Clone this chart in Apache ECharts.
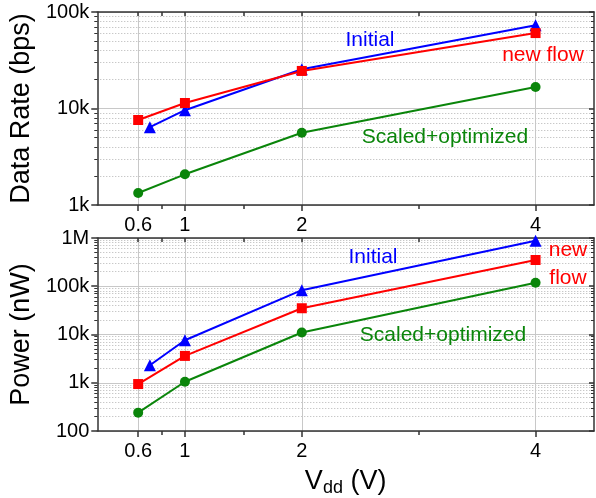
<!DOCTYPE html>
<html>
<head>
<meta charset="utf-8">
<script src="https://cdn.jsdelivr.net/npm/echarts@6/dist/echarts.min.js"></script>
<style>
  html, body { margin: 0; padding: 0; background: #fff; }
  #main { width: 596px; height: 498px; }
</style>
</head>
<body>
<div id="main"></div>
<script>
// supply voltage points (V)
const vdd = [0.6, 1, 2, 4];
const vddInitial = [0.7, 1, 2, 4];
const majorTicks = [0.6, 1, 2, 4];
const minorTicks = [0.8, 1.5, 3];

// data rate (bps)
const rateInitial = [6400, 9600, 25500, 73000];
const rateNewFlow = [7600, 11400, 24500, 60500];
const rateScaled = [1330, 2080, 5600, 16700];

// power (nW)
const powerInitial = [2300, 7600, 83000, 880000];
const powerNewFlow = [940, 3600, 35000, 350000];
const powerScaled = [240, 1050, 11000, 118000];

const yLabels = { 100: '100', 1000: '1k', 10000: '10k', 100000: '100k', 1000000: '1M' };

const FONT = 'Liberation Sans';
const AXIS_COLOR = '#333';
const BLUE = '#0000ff', RED = '#ff0000', GREEN = '#0a850a';

function pairs(xs, ys) {
  return xs.map((x, i) => [x, ys[i]]);
}

// x axes for one grid: main, minor ticks, top mirror
function xAxesFor(gi, withName) {
  const base = { type: 'value', gridIndex: gi, min: 0.25, max: 4.5 };
  return [
    Object.assign({}, base, {
      position: 'bottom',
      axisLine: { show: true, onZero: false, lineStyle: { color: AXIS_COLOR, width: 1.5 } },
      axisTick: { show: true, customValues: majorTicks, length: 6, lineStyle: { color: AXIS_COLOR, width: 1.5 } },
      axisLabel: { show: true, customValues: majorTicks, margin: 10, color: '#000', fontSize: 20, fontFamily: FONT },
      splitLine: { show: true, lineStyle: { color: '#c8c8c8', width: 1 } },
      name: withName ? 'V{sub|dd} (V)' : '',
      nameLocation: 'middle',
      nameGap: 36,
      nameTextStyle: {
        fontSize: 27, fontFamily: FONT, color: '#000',
        rich: { sub: { fontSize: 18, fontFamily: FONT, color: '#000', verticalAlign: 'bottom', padding: [12, 0, 0, 0] } }
      }
    }),
    Object.assign({}, base, {
      position: 'bottom',
      axisLine: { show: false, onZero: false },
      axisTick: { show: true, customValues: minorTicks, length: 4, lineStyle: { color: AXIS_COLOR, width: 1.5 } },
      axisLabel: { show: false },
      splitLine: { show: false }
    }),
    Object.assign({}, base, {
      position: 'top',
      axisLine: { show: true, onZero: false, lineStyle: { color: AXIS_COLOR, width: 1.5 } },
      axisTick: { show: true, inside: true, customValues: majorTicks.concat(minorTicks), length: 4, lineStyle: { color: AXIS_COLOR, width: 1.5 } },
      axisLabel: { show: false },
      splitLine: { show: false }
    })
  ];
}

function yAxesFor(gi, min, max, name) {
  const base = { type: 'log', logBase: 10, gridIndex: gi, min: min, max: max };
  return [
    Object.assign({}, base, {
      position: 'left',
      name: name,
      nameLocation: 'middle',
      nameGap: 57,
      nameTextStyle: { fontSize: 27, fontFamily: FONT, color: '#000' },
      axisLine: { show: true, onZero: false, lineStyle: { color: AXIS_COLOR, width: 1.5 } },
      axisTick: { show: true, length: 6, lineStyle: { color: AXIS_COLOR, width: 1.5 } },
      minorTick: { show: true, splitNumber: 9, length: 3, lineStyle: { color: AXIS_COLOR, width: 1 } },
      axisLabel: { margin: 8, color: '#000', fontSize: 20, fontFamily: FONT, formatter: v => yLabels[v] || '' },
      splitLine: { show: true, lineStyle: { color: '#c8c8c8', width: 1 } },
      minorSplitLine: { show: true, lineStyle: { color: '#b4b4b4', width: 1, type: [1, 2] } }
    }),
    Object.assign({}, base, {
      position: 'right',
      axisLine: { show: true, onZero: false, lineStyle: { color: AXIS_COLOR, width: 1.5 } },
      axisTick: { show: true, inside: true, length: 5, lineStyle: { color: AXIS_COLOR, width: 1.5 } },
      minorTick: { show: true, splitNumber: 9, length: 3, lineStyle: { color: AXIS_COLOR, width: 1 } },
      axisLabel: { show: false },
      splitLine: { show: false }
    })
  ];
}

function line(name, xi, yi, data, color, symbol, size) {
  return {
    name: name, type: 'line', xAxisIndex: xi, yAxisIndex: yi,
    data: data, symbol: symbol, symbolSize: size,
    lineStyle: { color: color, width: 2 },
    itemStyle: { color: color },
    z: 5
  };
}

function label(text, x, y, color) {
  return {
    type: 'text', x: x, y: y, z: 100,
    style: { text: text, fill: color, font: '21px ' + FONT, textAlign: 'center', textVerticalAlign: 'middle' }
  };
}

const chart = echarts.init(document.getElementById('main'), null, { renderer: 'canvas' });
chart.setOption({
  backgroundColor: '#fff',
  animation: false,
  grid: [
    { left: 93, right: 2, top: 12, height: 193 },
    { left: 93, right: 2, top: 238, height: 193 }
  ],
  xAxis: xAxesFor(0, false).concat(xAxesFor(1, true)),
  yAxis: yAxesFor(0, 1000, 100000, 'Data Rate (bps)').concat(yAxesFor(1, 100, 1000000, 'Power (nW)')),
  series: [
    line('Initial', 0, 0, pairs(vddInitial, rateInitial), BLUE, 'triangle', 12),
    line('new flow', 0, 0, pairs(vdd, rateNewFlow), RED, 'rect', 10),
    line('Scaled+optimized', 0, 0, pairs(vdd, rateScaled), GREEN, 'circle', 10),
    line('Initial', 3, 2, pairs(vddInitial, powerInitial), BLUE, 'triangle', 12),
    line('new flow', 3, 2, pairs(vdd, powerNewFlow), RED, 'rect', 10),
    line('Scaled+optimized', 3, 2, pairs(vdd, powerScaled), GREEN, 'circle', 10)
  ],
  graphic: [
    label('Initial', 370, 40, BLUE),
    label('new flow', 543, 55, RED),
    label('Scaled+optimized', 445, 137, GREEN),
    label('Initial', 373, 257, BLUE),
    label('new', 568, 250, RED),
    label('flow', 568, 278, RED),
    label('Scaled+optimized', 443, 335, GREEN)
  ]
});
</script>
</body>
</html>
